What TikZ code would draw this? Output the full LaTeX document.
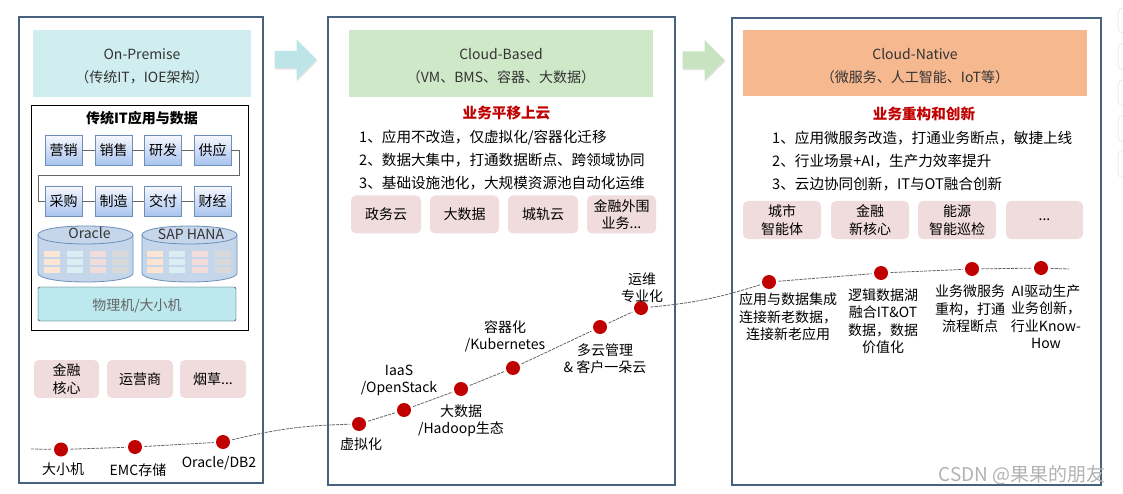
\documentclass[tikz,border=0pt]{standalone}
\usepackage{fontspec}
\setmainfont{Noto Sans CJK SC}
\usetikzlibrary{calc,shapes.arrows,shadows}
\definecolor{panelline}{HTML}{46627F}
\definecolor{headA}{HTML}{D0EDF0}
\definecolor{headB}{HTML}{CFE8C8}
\definecolor{headC}{HTML}{F5B88F}
\definecolor{arrowA}{HTML}{BDE5E8}
\definecolor{arrowB}{HTML}{C8E3C0}
\definecolor{tagpink}{HTML}{F0DCDC}
\definecolor{dotred}{HTML}{C00000}
\definecolor{cylblue}{HTML}{C5D6EB}
\definecolor{cyledge}{HTML}{6D8FB8}
\definecolor{hwfill}{HTML}{BDE8EE}
\definecolor{bizbot}{HTML}{A8C4EE}
\definecolor{cellA}{HTML}{FDE5D3}
\definecolor{cellB}{HTML}{DBEEF3}
\definecolor{cellC}{HTML}{F2DCDB}
\definecolor{cellD}{HTML}{D9D9D9}
\tikzset{
    txt/.style={font=\fontsize{14}{17.5}\selectfont,inner sep=0pt,align=center,text=black},
    panel/.style={draw=panelline,line width=2pt,inner sep=0pt},
    headbox/.style={inner sep=0pt},
    head/.style={txt,font=\fontsize{14}{23}\selectfont,text=black!80},
    redline/.style={txt,font=\fontsize{14.6}{17}\bfseries\selectfont,text=dotred},
    item/.style={txt,font=\fontsize{14.6}{17.5}\selectfont,anchor=west},
    tag/.style={txt,fill=tagpink,rounded corners=5pt,minimum height=38pt},
    biz/.style={txt,draw=cyledge,top color=blue!3,bottom color=bizbot,minimum width=37pt,minimum height=30pt},
    wire/.style={draw=black!60,line width=.7pt},
    dbcyl/.style={draw=cyledge,fill=cylblue,line width=.8pt},
    cell/.style={inner sep=0pt,minimum width=16pt,minimum height=6pt},
    bigarrow/.style={shape=single arrow,anchor=tip,inner xsep=0pt,inner ysep=8.5pt,minimum width=40pt,minimum height=42pt,single arrow head extend=11.5pt,single arrow head indent=0pt,drop shadow={opacity=.22,shadow xshift=.6pt,shadow yshift=-1.5pt}},
    dot/.style={shape=circle,fill=dotred,inner sep=0pt,minimum size=14pt,outer sep=2.5pt},
    curve/.style={draw=black!60,line width=.8pt,dash pattern=on 3.2pt off 1pt},
    side/.style={draw=black!7,fill=white,rounded corners=5pt,line width=1pt}
}
\begin{document}
\begin{tikzpicture}[x=1pt,y=-1pt]
    \useasboundingbox (0,0) rectangle (1123,494);

    % the three panels
    \node[panel,minimum width=244pt,minimum height=466pt] (pan1) at (141,250) {};
    \node[panel,minimum width=347pt,minimum height=467pt] (pan2) at (501.5,251) {};
    \node[panel,minimum width=369pt,minimum height=467pt] (pan3) at (916.5,251.5) {};

    \node[headbox,fill=headA,minimum width=218pt,minimum height=67pt] (h1) at (142,63.5) {};
    \node[headbox,fill=headB,minimum width=304pt,minimum height=67pt] (h2) at (501,63.5) {};
    \node[headbox,fill=headC,minimum width=344pt,minimum height=66pt] (h3) at (915,63) {};
    \node[head] (h1t) at (142,66.5) {On-Premise\\（传统IT，IOE架构）};
    \node[head] (h2t) at (501,66.5) {Cloud-Based\\（VM、BMS、容器、大数据）};
    \node[head] (h3t) at (915,66.5) {Cloud-Native\\（微服务、人工智能、IoT等）};

    \node[bigarrow,fill=arrowA] (a1) at (317,59.5) {};
    \node[bigarrow,fill=arrowB] (a2) at (725,60) {};

    % left stack
    \node[draw=black,line width=1pt,minimum width=217pt,minimum height=224pt] (stack) at (139.5,218) {};
    \node[txt,font=\fontsize{14}{17}\bfseries\selectfont] (stitle) at (142,118) {传统IT应用与数据};

    \node[biz] (b1) at (63.5,150) {营销};
    \node[biz] (b2) at (113.5,150) {销售};
    \node[biz] (b3) at (163,150) {研发};
    \node[biz] (b4) at (212.5,150) {供应};
    \node[biz] (b5) at (63.5,201) {采购};
    \node[biz] (b6) at (113.5,201) {制造};
    \node[biz] (b7) at (163,201) {交付};
    \node[biz] (b8) at (212.5,201) {财经};
    \coordinate (s1) at (239,175);
    \coordinate (s2) at (38,175);

    \path [wire] (b1) edge (b2);
    \path [wire] (b2) edge (b3);
    \path [wire] (b3) edge (b4);
    \path [wire] (b5) edge (b6);
    \path [wire] (b6) edge (b7);
    \path [wire] (b7) edge (b8);
    \draw [wire] (b4.east) -| (s1) -- (s2) |- (b5.west);

    \foreach \x in {38,142} {
        \draw[dbcyl] (\x,235) -- (\x,273) .. controls (\x,285) and (\x+95,285) .. (\x+95,273) -- (\x+95,235) .. controls (\x+95,223) and (\x,223) .. (\x,235);
        \draw[dbcyl] (\x,235) .. controls (\x,247) and (\x+95,247) .. (\x+95,235);
    }
    \node[txt,text=black!80] (db1t) at (89.5,233.5) {Oracle};
    \node[txt,text=black!80] (db2t) at (191,234) {SAP HANA};

    \foreach \y in {254,261.5,270} {
        \node[cell,fill=cellA] at (52,\y) {};
        \node[cell,fill=cellB] at (74.5,\y) {};
        \node[cell,fill=cellC] at (97.5,\y) {};
        \node[cell,fill=cellD] at (120,\y) {};
        \node[cell,fill=cellA] at (155,\y) {};
        \node[cell,fill=cellB] at (177,\y) {};
        \node[cell,fill=cellC] at (200,\y) {};
        \node[cell,fill=cellD] at (222.5,\y) {};
    }

    \node[txt,draw=black!70!teal,fill=hwfill,rounded corners=2pt,text=black!60,minimum width=198pt,minimum height=34pt,execute at begin node={\rule{0pt}{16pt}}] (hw) at (137,304) {物理机/大小机};

    \node[tag,minimum width=65pt] (t1) at (66.5,379) {金融\\核心};
    \node[tag,minimum width=66pt] (t2) at (140,379) {运营商};
    \node[tag,minimum width=66pt] (t3) at (213,379) {烟草...};

    % middle panel
    \node[redline] (r2) at (506.5,113) {业务平移上云};
    \node[item] (m1) at (359,138) {1、应用不改造，仅虚拟化/容器化迁移};
    \node[item] (m2) at (359,160) {2、数据大集中，打通数据断点、跨领域协同};
    \node[item] (m3) at (359,183) {3、基础设施池化，大规模资源池自动化运维};

    \node[tag,minimum width=70pt] (t4) at (386,214.5) {政务云};
    \node[tag,minimum width=69pt] (t5) at (464.5,214.5) {大数据};
    \node[tag,minimum width=70pt] (t6) at (543,214.5) {城轨云};
    \node[tag,minimum width=69pt] (t7) at (621.5,214.5) {金融外围\\业务...};

    % right panel
    \node[redline] (r3) at (924,114) {业务重构和创新};
    \node[item] (n1) at (772,138) {1、应用微服务改造，打通业务断点，敏捷上线};
    \node[item] (n2) at (772,161) {2、行业场景+AI，生产力效率提升};
    \node[item] (n3) at (772,184) {3、云边协同创新，IT与OT融合创新};

    \node[tag,minimum width=78pt] (t8) at (782,220) {城市\\智能体};
    \node[tag,minimum width=78pt] (t9) at (870,220) {金融\\新核心};
    \node[tag,minimum width=78pt] (t10) at (957,220) {能源\\智能巡检};
    \node[tag,minimum width=77pt] (t11) at (1044.5,220) {...};

    % the road through the panels
    \coordinate (c0) at (31,449);
    \coordinate (c1) at (1069,269);
    \node[dot] (d1) at (61,449.5) {};
    \node[dot] (d2) at (135,447) {};
    \node[dot] (d3) at (223,442) {};
    \node[dot] (d4) at (359,424) {};
    \node[dot] (d5) at (404,410) {};
    \node[dot] (d6) at (461,389) {};
    \node[dot] (d7) at (513,368) {};
    \node[dot] (d8) at (600,327) {};
    \node[dot] (d9) at (641,308) {};
    \node[dot] (d10) at (769,282) {};
    \node[dot] (d11) at (881,273) {};
    \node[dot] (d12) at (972,269) {};
    \node[dot] (d13) at (1041,268) {};

    \path [curve] (c0) edge (d1);
    \path [curve] (d1) edge (d2);
    \path [curve] (d2) edge (d3);
    \path [curve] (d3) edge[bend left=6] (d4);
    \path [curve] (d4) edge (d5);
    \path [curve] (d5) edge (d6);
    \path [curve] (d6) edge (d7);
    \path [curve] (d7) edge (d8);
    \path [curve] (d8) edge (d9);
    \path [curve] (d9) edge[bend right=6] (d10);
    \path [curve] (d10) edge (d11);
    \path [curve] (d11) edge (d12);
    \path [curve] (d12) edge (d13);
    \path [curve] (d13) edge (c1);

    \node[txt] (l1) at (63,469.5) {大小机};
    \node[txt] (l2) at (138,470.5) {EMC存储};
    \node[txt] (l3) at (219,463.5) {Oracle/DB2};
    \node[txt] (l4) at (361,444) {虚拟化};
    \node[txt] (l5) at (399,380.5) {IaaS\\/OpenStack};
    \node[txt] (l6) at (461,420.5) {大数据\\/Hadoop生态};
    \node[txt] (l7) at (505,336.5) {容器化\\/Kubernetes};
    \node[txt] (l8) at (605,358.5) {多云管理\\\& 客户一朵云};
    \node[txt] (l9) at (642,287.5) {运维\\专业化};
    \node[txt] (l10) at (788,317) {应用与数据集成\\连接新老数据，\\连接新老应用};
    \node[txt] (l11) at (883,321) {逻辑数据湖\\融合IT\&OT\\数据，数据\\价值化};
    \node[txt] (l12) at (970,309) {业务微服务\\重构，打通\\流程断点};
    \node[txt] (l13) at (1046,316.5) {AI驱动生产\\业务创新，\\行业Know-\\How};

    % watermark and the window strip at the edge
    \node[txt,font=\fontsize{19}{21}\selectfont,text=black!30] (mark) at (1022,475) {CSDN @果果的朋友};
    \foreach \a/\b in {8/33,43/70,80/106,115/142,150/178} {
        \draw[side] (1118,\a) rectangle (1135,\b);
    }
\end{tikzpicture}
\end{document}
